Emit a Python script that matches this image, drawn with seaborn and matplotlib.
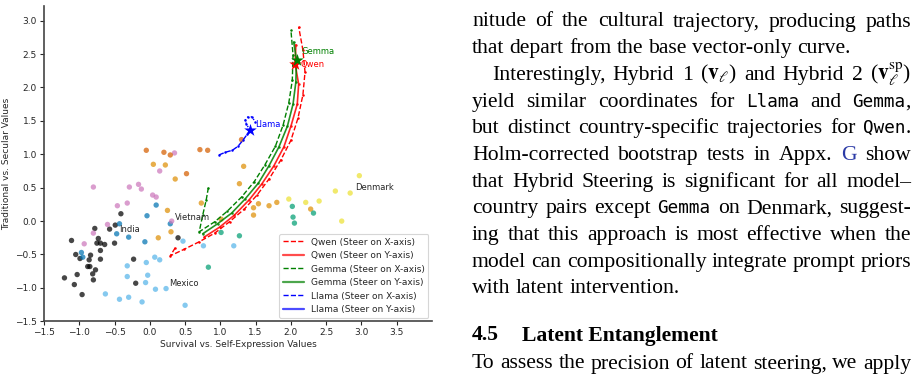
import matplotlib
matplotlib.use("Agg")
import numpy as np
import pandas as pd
import matplotlib.pyplot as plt
from matplotlib.lines import Line2D
import seaborn as sns

# ------------------------------------------------------------------ data
zones = ["African-Islamic", "South Asia", "Orthodox", "Confucian",
         "Catholic Europe", "Protestant Europe", "English-speaking", "Latin America"]
zone_colors = ["#000000", "#0173b2", "#cc78bc", "#d55e00",
               "#de8f05", "#ece133", "#029e73", "#56b4e9"]

african_x = [-0.41, -0.49, -0.57, -0.78, -1.11, -0.73, -0.75, -0.70, -0.64, -0.50, 0.40, -0.70, -1.05, -0.99,
             -0.84, -0.86, -0.70, -0.88, -0.85, -0.77, -0.81, -1.03, -0.80, -1.21, -1.07, -0.96, -0.23, -0.20]
african_y = [0.11, -0.06, -0.12, -0.11, -0.29, -0.26, -0.33, -0.33, -0.35, -0.33, -0.25, -0.44, -0.50, -0.56,
             -0.51, -0.58, -0.57, -0.68, -0.68, -0.73, -0.79, -0.80, -0.88, -0.85, -0.95, -1.10, -0.57, -0.93]
southasia_x = [0.09, -0.04, -0.43, -0.47, -0.30, -0.07, 0.29, -0.97, -0.95]
southasia_y = [0.24, 0.08, -0.04, -0.19, -0.24, -0.31, -0.04, -0.47, -0.54]
orthodox_x = [-0.80, -0.29, -0.16, -0.12, 0.04, 0.09, -0.46, -0.32, -0.60, -0.80, -0.93, 0.31, 0.14, 0.35]
orthodox_y = [0.51, 0.51, 0.55, 0.48, 0.39, 0.36, 0.23, 0.27, -0.05, -0.18, -0.34, 0.00, 0.75, 1.02]
confucian_x = [-0.05, 0.20, 0.29, 0.71, 0.82, 0.52, 1.30]
confucian_y = [1.06, 1.03, 0.99, 1.07, 1.06, 0.71, 1.22]
catholic_x = [0.05, 0.22, 0.36, 1.33, 1.27, 0.73, 0.25, 0.12, 0.30, 1.47, 1.54, 1.69, 1.80, 1.47, 2.28, 1.01]
catholic_y = [0.85, 0.84, 0.63, 0.82, 0.56, 0.27, 0.16, -0.25, -0.16, 0.20, 0.26, 0.23, 0.28, 0.09, 0.18, 0.03]
protestant_x = [1.97, 2.21, 2.40, 2.63, 2.84, 2.72, 2.97]
protestant_y = [0.33, 0.28, 0.30, 0.45, 0.42, 0.00, 0.68]
english_x = [2.02, 2.03, 2.05, 2.32, 1.27, 1.01, 0.83]
english_y = [0.22, 0.06, -0.03, 0.12, -0.22, -0.17, -0.69]
latam_x = [0.47, 0.76, 1.19, -0.32, -0.05, 0.07, 0.14, -0.32, -0.03, -0.06, 0.08, 0.23, -0.63, -0.43, -0.30, -0.11, 0.50]
latam_y = [-0.30, -0.37, -0.37, -0.67, -0.62, -0.54, -0.58, -0.83, -0.81, -0.92, -1.02, -1.01, -1.09, -1.17, -1.14, -1.21, -1.26]

country_labels = ["India", "Vietnam", "Mexico", "Denmark"]
country_lx = [-0.44, 0.35, 0.28, 2.91]
country_ly = [-0.12, 0.05, -0.93, 0.50]

qwen_xsteer_x = [0.36, 0.29, 0.49, 0.70, 0.92, 1.13, 1.34, 1.52, 1.69, 1.86, 2.00, 2.10, 2.17, 2.20, 2.17, 2.11]
qwen_xsteer_y = [-0.40, -0.52, -0.42, -0.31, -0.18, -0.01, 0.18, 0.39, 0.63, 0.92, 1.21, 1.54, 1.89, 2.23, 2.56, 2.91]
qwen_ysteer_x = [0.77, 0.99, 1.20, 1.41, 1.59, 1.76, 1.90, 2.00, 2.09, 2.11, 2.06, 2.07]
qwen_ysteer_y = [-0.24, -0.09, 0.09, 0.32, 0.56, 0.83, 1.11, 1.42, 1.75, 2.05, 2.35, 2.64]
gemma_xsteer_x = [0.83, 0.80, 0.75, 0.70, 0.92, 1.10, 1.30, 1.48, 1.63, 1.78, 1.89, 1.97, 2.02, 2.03, 2.00]
gemma_xsteer_y = [0.50, 0.32, 0.09, -0.16, -0.01, 0.15, 0.36, 0.59, 0.84, 1.12, 1.44, 1.77, 2.11, 2.49, 2.86]
gemma_ysteer_x = [0.75, 0.96, 1.16, 1.35, 1.54, 1.69, 1.83, 1.95, 2.03, 2.07, 2.08, 2.04]
gemma_ysteer_y = [-0.19, -0.04, 0.12, 0.33, 0.57, 0.83, 1.11, 1.42, 1.75, 2.08, 2.41, 2.68]
llama_xsteer_x = [0.98, 1.07, 1.17, 1.25, 1.32, 1.38, 1.42]
llama_xsteer_y = [0.99, 1.03, 1.06, 1.12, 1.21, 1.30, 1.36]
llama_ysteer_x = [1.42, 1.37, 1.35, 1.39, 1.45, 1.49]
llama_ysteer_y = [1.36, 1.45, 1.51, 1.56, 1.56, 1.49]

models = ["Qwen", "Gemma", "Llama"]
model_colors = ["red", "green", "blue"]
base_x = [2.06, 2.08, 1.42]
base_y = [2.35, 2.41, 1.36]
model_lx = [2.14, 2.15, 1.49]
model_ly = [2.35, 2.54, 1.44]

legend_labels = ["Qwen (Steer on X-axis)", "Qwen (Steer on Y-axis)",
                 "Gemma (Steer on X-axis)", "Gemma (Steer on Y-axis)",
                 "Llama (Steer on X-axis)", "Llama (Steer on Y-axis)"]

# ------------------------------------------------------------------ style
sns.set_theme(style="ticks")
plt.rcParams["font.family"] = ["DejaVu Sans"]
plt.rcParams["mathtext.fontset"] = "stix"
TXT = "#262626"

W, H = 919, 374
fig = plt.figure(figsize=(W / 100, H / 100), dpi=100)
ax = fig.add_axes([44 / W, 1 - 321.3 / H, (432 - 44) / W, (321.3 - 6) / H])

# scatter of countries
frames = []
for z, xs, ys in zip(zones,
                     [african_x, southasia_x, orthodox_x, confucian_x, catholic_x, protestant_x, english_x, latam_x],
                     [african_y, southasia_y, orthodox_y, confucian_y, catholic_y, protestant_y, english_y, latam_y]):
    frames.append(pd.DataFrame({"x": xs, "y": ys, "zone": z}))
df = pd.concat(frames, ignore_index=True)
sns.scatterplot(data=df, x="x", y="y", hue="zone", palette=dict(zip(zones, zone_colors)),
                s=15, alpha=0.72, linewidth=0, legend=False, ax=ax, zorder=1)

for lab, lx, ly in zip(country_labels, country_lx, country_ly):
    ax.text(lx, ly, lab, fontsize=6, color=TXT, ha="left", va="center", zorder=6)

# trajectories
traj = [
    (qwen_xsteer_x, qwen_xsteer_y, "red", "--", 1.0, 1.0),
    (qwen_ysteer_x, qwen_ysteer_y, "red", "-", 1.2, 0.85),
    (gemma_xsteer_x, gemma_xsteer_y, "green", "--", 1.0, 1.0),
    (gemma_ysteer_x, gemma_ysteer_y, "green", "-", 1.2, 0.85),
    (llama_xsteer_x, llama_xsteer_y, "blue", "--", 1.0, 1.0),
    (llama_ysteer_x, llama_ysteer_y, "blue", ":", 1.0, 1.0),
]
for xs, ys, c, ls, lw, a in traj:
    sns.lineplot(x=xs, y=ys, sort=False, estimator=None, color=c, linestyle=ls, linewidth=lw,
                 alpha=a, marker="o", markersize=1.8, markeredgewidth=0, legend=False, ax=ax, zorder=3)

for m, c, bx, by, lx, ly in zip(models, model_colors, base_x, base_y, model_lx, model_ly):
    sns.scatterplot(x=[bx], y=[by], marker="*", s=90, color=c, linewidth=0, ax=ax, zorder=5, legend=False)
    ax.text(lx, ly, m, fontsize=6, color=c, ha="left", va="center", zorder=6)

ax.set_xlim(-1.5, 4.0)
ax.set_ylim(-1.5, 3.22)
ax.set_xticks(np.arange(-1.5, 3.51, 0.5))
ax.set_yticks(np.arange(-1.5, 3.01, 0.5))
ax.tick_params(labelsize=6.5, length=3, width=0.8, colors=TXT, pad=2)
ax.set_xlabel("Survival vs. Self-Expression Values", fontsize=6.5, color=TXT, labelpad=2)
ax.set_ylabel("Traditional vs. Secular Values", fontsize=6.5, color=TXT, labelpad=3)
sns.despine(ax=ax)
for sp in ("left", "bottom"):
    ax.spines[sp].set_linewidth(1.2)
    ax.spines[sp].set_color("#444444")

handles = []
for c in model_colors:
    handles.append(Line2D([], [], color=c, linestyle="--", linewidth=1.0))
    handles.append(Line2D([], [], color=c, linestyle="-", linewidth=1.6, alpha=0.7))
leg = ax.legend(handles, legend_labels, loc="lower right", fontsize=6.5, frameon=True,
                borderaxespad=0.4, labelspacing=0.5, handlelength=2.3)
leg.get_frame().set_edgecolor("#cccccc")
leg.get_frame().set_linewidth(0.8)

# ------------------------------------------------------------------ page text
renderer = fig.canvas.get_renderer()


def _w(s, **kw):
    t = fig.text(0, 0, s, **kw)
    w = t.get_window_extent(renderer=renderer).width
    t.remove()
    return w


SERIF = "Liberation Serif"
MONO = "DejaVu Sans Mono"
fs_b = 10 * 197.7 / _w("Latent Entanglement", family=SERIF, fontsize=10, weight="bold")
fs_r = fs_b
fs_m = 10 * 53.0 / _w("Llama", family=MONO, fontsize=10)

styles = {
    "r": dict(family=SERIF, fontsize=fs_r, color="black"),
    "m": dict(family=MONO, fontsize=fs_m, color="black"),
    "l": dict(family=SERIF, fontsize=fs_r, color="#2b3aa6"),
    "b": dict(family=SERIF, fontsize=fs_b, weight="bold", color="black"),
}
space = _w("a a", **styles["r"]) - _w("aa", **styles["r"])
LEFT, RIGHT = 472.0, 911.0


def draw_line(words, left, base, justify):
    segs_all = [[(w, "r")] if isinstance(w, str) else w for w in words]
    widths = [sum(_w(t, **styles[k]) for t, k in segs) for segs in segs_all]
    gap = (RIGHT - left - sum(widths)) / (len(words) - 1) if justify else space
    x = left
    for segs, wd in zip(segs_all, widths):
        cx = x
        for t, k in segs:
            fig.text(cx / W, 1 - base / H, t, ha="left", va="baseline", **styles[k])
            cx += _w(t, **styles[k])
        x += wd + gap


page = [
    ("nitude of the cultural trajectory, producing paths".split(), LEFT, True),
    ("that depart from the base vector-only curve.".split(), LEFT, False),
    (["Interestingly,", "Hybrid", "1", r"($\mathbf{v}_\ell$)", "and", "Hybrid", "2",
      r"($\mathbf{v}_\ell^{\mathrm{sp}}$)"], 491.7, True),
    (["yield", "similar", "coordinates", "for", [("Llama", "m")], "and", [("Gemma", "m"), (",", "r")]], LEFT, True),
    (["but", "distinct", "country-specific", "trajectories", "for", [("Qwen", "m"), (".", "r")]], LEFT, True),
    (["Holm-corrected", "bootstrap", "tests", "in", "Appx.", [("G", "l")], "show"], LEFT, True),
    ("that Hybrid Steering is significant for all model–".split(), LEFT, True),
    (["country", "pairs", "except", [("Gemma", "m")], "on", "Denmark,", "suggest-"], LEFT, True),
    ("ing that this approach is most effective when the".split(), LEFT, True),
    ("model can compositionally integrate prompt priors".split(), LEFT, True),
    ("with latent intervention.".split(), LEFT, False),
]
for i, (words, left, just) in enumerate(page):
    draw_line(words, left, 26.5 + 26.68 * i, just)

fig.text(LEFT / W, 1 - 340.5 / H, "4.5", ha="left", va="baseline", **styles["b"])
fig.text(521.7 / W, 1 - 340.5 / H, "Latent Entanglement", ha="left", va="baseline", **styles["b"])
draw_line("To assess the precision of latent steering, we apply".split(), LEFT, 368.5, True)

fig.savefig("out.png", dpi=100)
